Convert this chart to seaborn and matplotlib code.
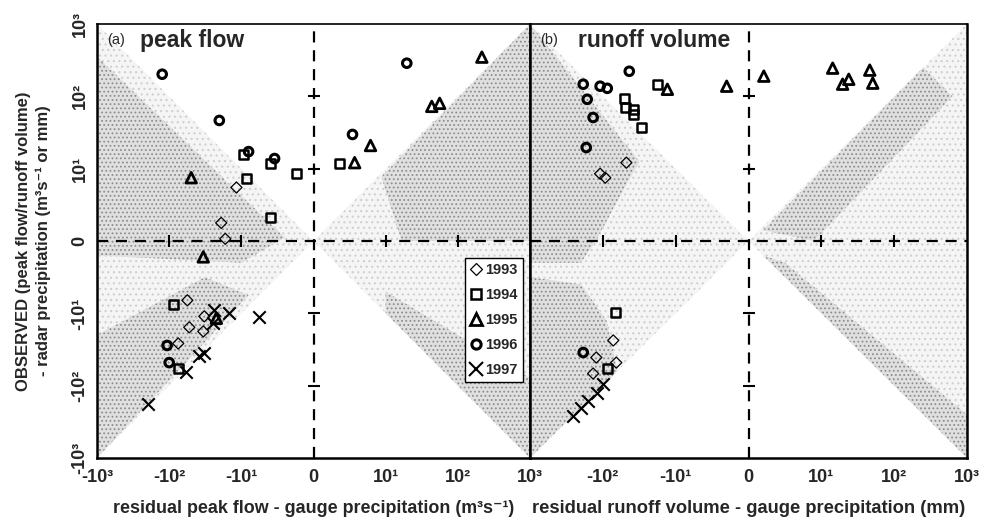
"""Residus radar vs pluviometres : debit de pointe et volume ruissele."""

import matplotlib
matplotlib.use("Agg")
import matplotlib.pyplot as plt
from matplotlib.lines import Line2D
from matplotlib.patches import Polygon
import pandas as pd
import seaborn as sns


YEARS = [1993, 1994, 1995, 1996, 1997]

# (a) peak flow : residual gauge (x) / observed - radar (y)
PEAK_X_1993 = [-11.7, -19, -16.7, -56, -32.6, -52.7, -33.7, -75]
PEAK_Y_1993 = [7.4, 2.5, 0.3, -8.2, -11.0, -15.6, -17.8, -26.1]
PEAK_X_1994 = [-9.7, -6.0, -2.4, -9.3, -6.0, 3.6, -88, -75]
PEAK_Y_1994 = [15.6, 11.7, 9.3, 8.6, 3.3, 11.7, -8.75, -58]
PEAK_X_1995 = [-49.5, 215, 43.5, 56, 7.9, 5.7, -33.7, -22.2]
PEAK_Y_1995 = [8.75, 348, 72.6, 80, 20.9, 12.1, -2.2, -11.7]
PEAK_X_1996 = [-125, -20.2, -9.0, -5.4, 19.6, 5.4, -107, -100]
PEAK_Y_1996 = [202, 46.4, 17.2, 13.8, 287, 29.7, -27.8, -48]
PEAK_X_1997 = [-23.7, -14.7, -7.5, -24.5, -38.3, -32.6, -58, -196]
PEAK_Y_1997 = [-9.6, -9.9, -11.4, -13.8, -38.3, -34.8, -64, -178]

# (b) runoff volume
RUNOFF_X_1993 = [-47.6, -109, -92.7, -72, -123, -65.4, -136]
RUNOFF_Y_1993 = [12.1, 9.3, 8.75, -23.7, -40.8, -48, -68]
RUNOFF_X_1994 = [-17.9, -50.8, -49.2, -38.2, -38.2, -29.6, -67.5, -87]
RUNOFF_Y_1994 = [147, 93.8, 70.3, 66, 56, 37.1, -9.9, -58]
RUNOFF_X_1995 = [-13.0, -3.0, 2.1, 14.3, 19.6, 23.8, 46.2, 50.8]
RUNOFF_Y_1995 = [125, 138, 190, 245, 147, 172, 230, 152]
RUNOFF_X_1996 = [-43.4, -186, -109, -87, -164, -136, -169, -186]
RUNOFF_Y_1996 = [222, 147, 138, 129, 91, 51, 19.6, -34.8]
RUNOFF_X_1997 = [-99, -119, -159, -198, -255]
RUNOFF_Y_1997 = [-94, -125, -162, -202, -261]

# zones grisees (sommets en unites des donnees)
LIGHT_ZONES = [
    [(-1000, 1000), (0, 0), (-1000, -1000)],
    [(1000, 1000), (0, 0), (1000, -1000)],
]
PEAK_DENSE = [
    [(-1000, 355), (-4, 0.5), (-10, -3), (-1000, -2)],
    [(-1000, -20), (-32, -5), (-9, -7.5), (-1000, -1000)],
    [(1000, 1000), (9.4, 8.9), (16.6, 0), (1000, 0)],
    [(10, -7), (1000, -79), (1000, -1000), (10, -10)],
]
RUNOFF_DENSE = [
    [(-1000, 1000), (-31.6, 12.6), (-126, 0), (-200, -3), (-1000, -3)],
    [(-1000, -5), (-200, -6), (-89, -12.6), (-63, -63), (-1000, -1000)],
    [(2, 1.5), (251, 251), (631, 100), (9, 0)],
    [(2, -2), (5, -3), (1000, -251), (1000, -1000)],
]

TICKS = [-1000, -100, -10, 0, 10, 100, 1000]
TICK_LABELS = ["-10³", "-10²", "-10¹", "0", "10¹", "10²", "10³"]
CROSS_TICKS = [-100, -10, 10, 100]

MARKERS = {
    1993: dict(marker="D", s=32, linewidths=0.9),
    1994: dict(marker="s", s=44, linewidths=1.8),
    1995: dict(marker="^", s=58, linewidths=2.0),
    1996: dict(marker="o", s=38, linewidths=2.2),
    1997: dict(marker="x", s=80, linewidths=1.5),
}


def build_frame(xs, ys):
    rows = []
    for year, x_vals, y_vals in zip(YEARS, xs, ys):
        rows += [(year, x, y) for x, y in zip(x_vals, y_vals)]
    return pd.DataFrame(rows, columns=["annee", "residu", "observe"])


peak_df = build_frame(
    [PEAK_X_1993, PEAK_X_1994, PEAK_X_1995, PEAK_X_1996, PEAK_X_1997],
    [PEAK_Y_1993, PEAK_Y_1994, PEAK_Y_1995, PEAK_Y_1996, PEAK_Y_1997],
)
runoff_df = build_frame(
    [RUNOFF_X_1993, RUNOFF_X_1994, RUNOFF_X_1995, RUNOFF_X_1996, RUNOFF_X_1997],
    [RUNOFF_Y_1993, RUNOFF_Y_1994, RUNOFF_Y_1995, RUNOFF_Y_1996, RUNOFF_Y_1997],
)

sns.set_style("white")
plt.rcParams["font.family"] = ["Liberation Sans", "DejaVu Sans"]
plt.rcParams["hatch.linewidth"] = 0.8

fig = plt.figure(figsize=(9.92, 5.17), dpi=100)
ax_a = fig.add_axes([0.0978, 0.1141, 0.4365, 0.8395])
ax_b = fig.add_axes([0.5343, 0.1141, 0.4405, 0.8395])


def draw_panel(ax, df, dense, tag, title, title_x, xlabel, xlabel_size, xlabels):
    ax.set_xscale("symlog", linthresh=10, linscale=0.9)
    ax.set_yscale("symlog", linthresh=10, linscale=0.9)
    ax.set_xlim(-1000, 1000)
    ax.set_ylim(-1000, 1000)

    for verts in LIGHT_ZONES:
        ax.add_patch(Polygon(verts, closed=True, facecolor="#f5f5f5",
                             edgecolor="#cfcfcf", linewidth=0, hatch="...",
                             zorder=0))
    for verts in dense:
        ax.add_patch(Polygon(verts, closed=True, facecolor="#e0e0e0",
                             edgecolor="#8e8e8e", linewidth=0, hatch="....",
                             zorder=0.5))

    dash = (0, (5, 3.5))
    ax.axvline(0, color="black", linestyle=dash, linewidth=1.6, zorder=2)
    ax.axhline(0, color="black", linestyle=dash, linewidth=1.6, zorder=2)
    ax.plot(CROSS_TICKS, [0] * 4, linestyle="none", marker="|",
            markersize=8, markeredgewidth=1.5, color="black", zorder=2)
    ax.plot([0] * 4, CROSS_TICKS, linestyle="none", marker="_",
            markersize=8, markeredgewidth=1.5, color="black", zorder=2)

    for year in YEARS:
        sub = df[df["annee"] == year]
        style = MARKERS[year]
        if style["marker"] == "x":
            sns.scatterplot(data=sub, x="residu", y="observe", color="black",
                            legend=False, ax=ax, zorder=5, **style)
        else:
            sns.scatterplot(data=sub, x="residu", y="observe", color="black",
                            facecolor="none", edgecolor="black", legend=False,
                            ax=ax, zorder=5, **style)

    ax.text(0.023, 0.963, tag, transform=ax.transAxes, fontsize=10.5,
            va="center", ha="left")
    ax.text(title_x, 0.963, title, transform=ax.transAxes, fontsize=16.5,
            fontweight="bold", va="center", ha="left")

    ax.set_xticks(TICKS)
    ax.set_xticklabels(xlabels, fontsize=13, fontweight="bold")
    ax.set_xlabel(xlabel, fontsize=xlabel_size, fontweight="bold", labelpad=10)
    ax.tick_params(axis="both", length=0)
    ax.tick_params(axis="x", pad=8)
    for side, spine in ax.spines.items():
        spine.set_color("black")
        spine.set_linewidth(1.2 if side == "top" else 1.8)


draw_panel(ax_a, peak_df, PEAK_DENSE, "(a)", "peak flow", 0.099,
           "residual peak flow - gauge precipitation (m³s⁻¹)", 12.9,
           TICK_LABELS)
draw_panel(ax_b, runoff_df, RUNOFF_DENSE, "(b)", "runoff volume", 0.11,
           "residual runoff volume - gauge precipitation (mm)", 13.2,
           [""] + TICK_LABELS[1:])

ax_a.set_yticks(TICKS)
ax_a.set_yticklabels(TICK_LABELS, fontsize=13, fontweight="bold",
                     rotation=90, va="center")
ax_a.tick_params(axis="y", pad=6)
ax_a.set_ylabel("OBSERVED (peak flow/runoff volume)\n"
                "- radar precipitation (m³s⁻¹ or mm)",
                fontsize=12, fontweight="bold", linespacing=1.35, labelpad=15)
ax_b.set_yticks(TICKS)
ax_b.set_yticklabels([])
ax_b.set_ylabel("")

handles = []
for year in YEARS:
    style = MARKERS[year]
    handles.append(Line2D([], [], linestyle="none", marker=style["marker"],
                          color="black", markerfacecolor="none",
                          markersize=style["s"] ** 0.5 + 0.5,
                          markeredgewidth=style["linewidths"]))
ax_a.legend(handles, [str(y) for y in YEARS], loc="lower right",
            bbox_to_anchor=(0.984, 0.175), frameon=True, fancybox=False,
            edgecolor="black", framealpha=1, borderaxespad=0,
            handlelength=0.8, handletextpad=0.25, labelspacing=0.75,
            borderpad=0.35, prop={"weight": "bold", "size": 10.5})

fig.savefig("out.png", dpi=100)
